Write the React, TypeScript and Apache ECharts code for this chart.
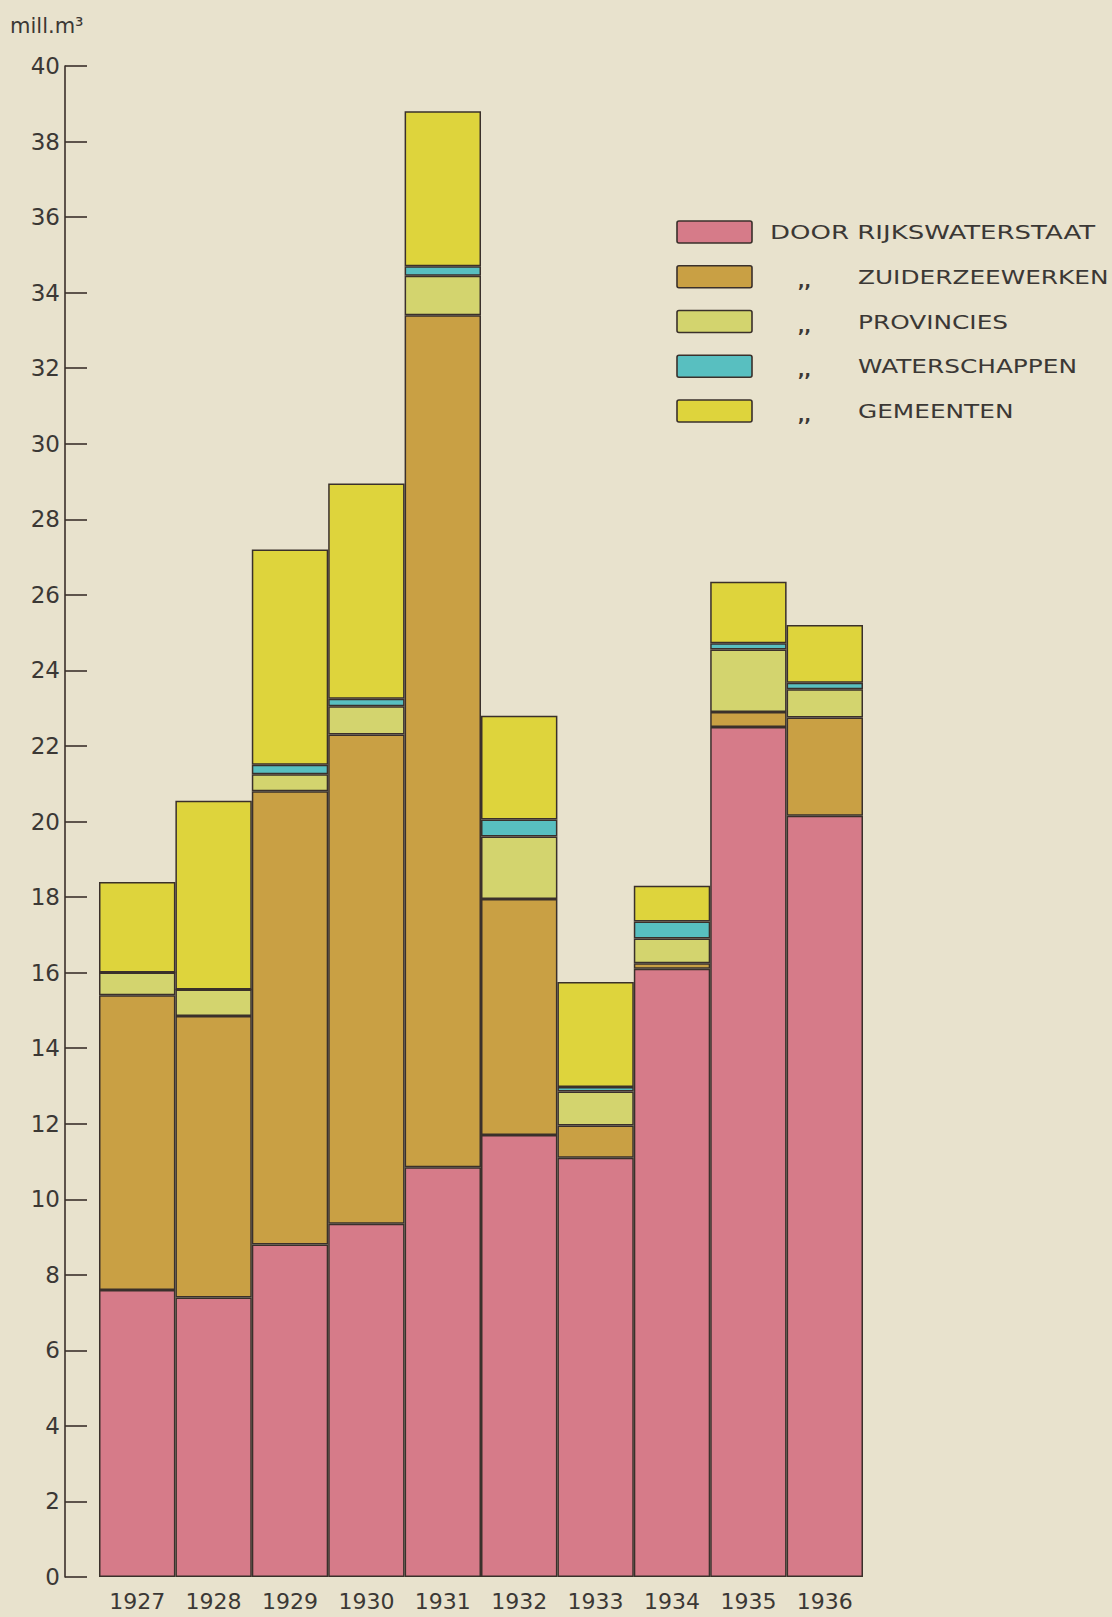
import React, { useEffect, useRef } from "react";
import * as echarts from "echarts";

const years = ["1927", "1928", "1929", "1930", "1931", "1932", "1933", "1934", "1935", "1936"];
const rijkswaterstaat = [7.6, 7.4, 8.8, 9.35, 10.85, 11.7, 11.1, 16.1, 22.5, 20.15];
const zuiderzeewerken = [7.8, 7.45, 12.0, 12.95, 22.55, 6.25, 0.85, 0.15, 0.4, 2.6];
const provincies = [0.6, 0.7, 0.45, 0.75, 1.05, 1.65, 0.9, 0.65, 1.65, 0.75];
const waterschappen = [0, 0, 0.25, 0.2, 0.25, 0.45, 0.12, 0.45, 0.17, 0.17];
const gemeenten = [2.4, 5.0, 5.7, 5.7, 4.1, 2.75, 2.78, 0.95, 1.63, 1.53];

const seriesNames = ["RIJKSWATERSTAAT", "ZUIDERZEEWERKEN", "PROVINCIES", "WATERSCHAPPEN", "GEMEENTEN"];
const legendLabels = ["DOOR RIJKSWATERSTAAT", "ZUIDERZEEWERKEN", "PROVINCIES", "WATERSCHAPPEN", "GEMEENTEN"];
const colors = ["#d67b89", "#c9a044", "#d3d46e", "#58bfc0", "#ded43c"];
const unitLabel = "mill.m³";

const INK = "#3a302b";
const TEXT = "#3b3835";
const FONT = "'DejaVu Sans', sans-serif";

export default function App() {
  const ref = useRef<HTMLDivElement>(null);
  useEffect(() => {
    document.body.style.margin = "0";
    document.body.style.background = "#e8e2cd";
    const chart = echarts.init(ref.current!, undefined, { renderer: "svg" });
    const dataSets = [rijkswaterstaat, zuiderzeewerken, provincies, waterschappen, gemeenten];
    const legendGraphics: any[] = [];
    for (let i = 0; i < 5; i++) {
      const top = 221 + i * 44.75;
      legendGraphics.push({
        type: "rect",
        shape: { x: 677, y: top, width: 75, height: 22, r: 2 },
        style: { fill: colors[i], stroke: INK, lineWidth: 1.6 },
      });
      if (i === 0) {
        legendGraphics.push({
          type: "text",
          x: 770,
          y: top + 11,
          scaleX: 1.3,
          style: { text: legendLabels[i], fill: TEXT, font: `20px ${FONT}`, verticalAlign: "middle", align: "left" },
        });
      } else {
        legendGraphics.push({
          type: "text",
          x: 798,
          y: top + 15,
          style: { text: ",,", fill: TEXT, font: `bold 17px ${FONT}`, verticalAlign: "middle", align: "left" },
        });
        legendGraphics.push({
          type: "text",
          x: 858,
          y: top + 11,
          scaleX: 1.24,
          style: { text: legendLabels[i], fill: TEXT, font: `20px ${FONT}`, verticalAlign: "middle", align: "left" },
        });
      }
    }
    chart.setOption({
      animation: false,
      backgroundColor: "#e8e2cd",
      grid: { left: 99, right: 249, top: 66, bottom: 40, containLabel: false },
      xAxis: {
        type: "category",
        data: years,
        axisLine: { show: false },
        axisTick: { show: false },
        axisLabel: { color: TEXT, fontSize: 22, fontFamily: FONT, margin: 13 },
      },
      yAxis: {
        type: "value",
        min: 0,
        max: 40,
        interval: 2,
        offset: 34,
        axisLine: { show: true, lineStyle: { color: INK, width: 1.6 } },
        axisTick: { show: true, inside: true, length: 22, lineStyle: { color: INK, width: 1.6 } },
        axisLabel: { color: TEXT, fontSize: 23, fontFamily: FONT, margin: 5 },
        splitLine: { show: false },
      },
      graphic: [
        {
          type: "text",
          x: 10,
          y: 26,
          style: { text: unitLabel, fill: TEXT, font: `21px ${FONT}`, verticalAlign: "middle" },
        },
        ...legendGraphics,
      ],
      series: dataSets.map((d, i) => ({
        name: seriesNames[i],
        type: "bar",
        stack: "total",
        data: d,
        barCategoryGap: "0%",
        itemStyle: { color: colors[i], borderColor: INK, borderWidth: 1.5 },
      })),
    });
    return () => chart.dispose();
  }, []);
  return <div ref={ref} style={{ width: 1112, height: 1617 }} />;
}
